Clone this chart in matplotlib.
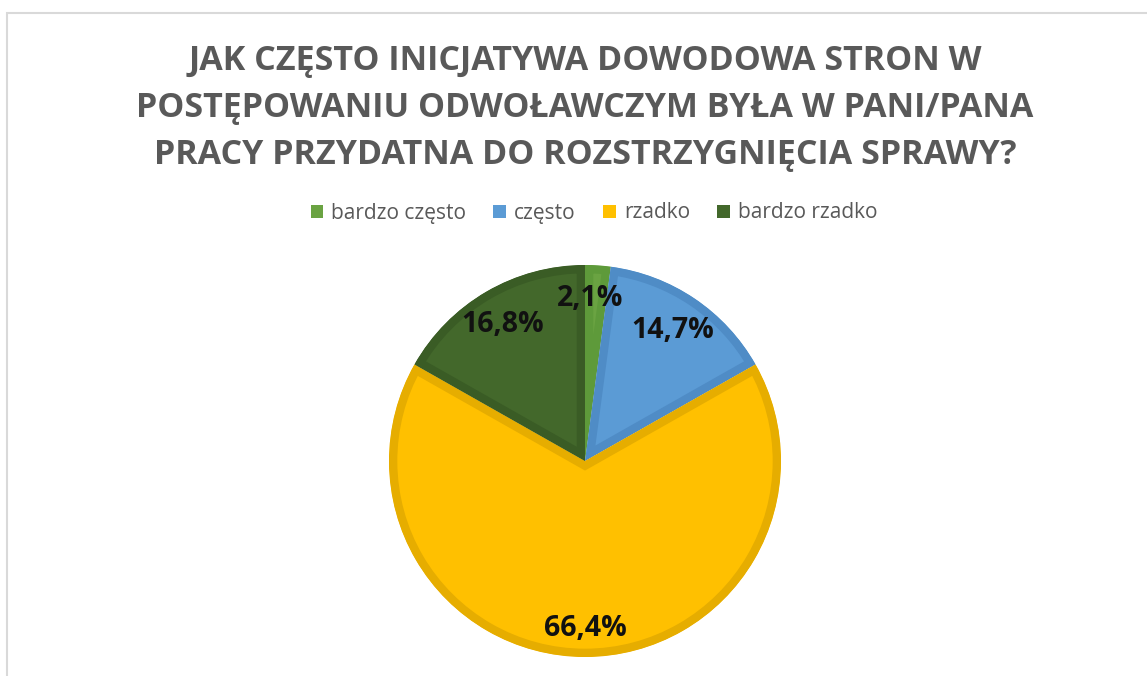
import matplotlib
matplotlib.use("Agg")
import matplotlib.pyplot as plt
from matplotlib.patches import Rectangle, Patch

# chart data
categories = ["bardzo często", "często", "rzadko", "bardzo rzadko"]
values = [2.1, 14.7, 66.4, 16.8]
labels = ["2,1%", "14,7%", "66,4%", "16,8%"]
fills = ["#6aa342", "#5b9bd5", "#ffc000", "#43682b"]
edges = ["#5e9a3a", "#4f8cc6", "#e6ad00", "#3a5c25"]

title = ("JAK CZĘSTO INICJATYWA DOWODOWA STRON W\n"
         "POSTĘPOWANIU ODWOŁAWCZYM BYŁA W PANI/PANA\n"
         "PRACY PRZYDATNA DO ROZSTRZYGNIĘCIA SPRAWY?")

W, H = 1147, 676
fig = plt.figure(figsize=(W / 100, H / 100), dpi=100)
ax = fig.add_axes([0, 0, 1, 1])

cx, cy, r = 585, H - 461, 196
wedges, _ = ax.pie(values, colors=fills, startangle=90, counterclock=False,
                   center=(cx, cy), radius=r)
for w, ec in zip(wedges, edges):
    # inner stroke: wide edge clipped to the wedge itself
    w.set_edgecolor(ec)
    w.set_linewidth(12)
    w.set_clip_on(True)
    w.set_clip_path(w)

ax.set_xlim(0, W)
ax.set_ylim(0, H)
ax.set_aspect("equal")
ax.axis("off")

# value labels
label_pos = [(590, 298), (673, 330), (585, 629), (503, 325)]
for lab, (x, y) in zip(labels, label_pos):
    ax.text(x, H - y, lab, ha="center", va="center", fontsize=20.5,
            fontweight="bold", color="#111111", family="Open Sans")

# title
ax.text(585, H - 108, title, ha="center", va="center", fontsize=24.5,
        fontweight="bold", color="#595959", family="Open Sans",
        linespacing=1.5)

# legend
handles = [Patch(facecolor=f, edgecolor="none") for f in fills]
fig.legend(handles, categories, loc="center", bbox_to_anchor=(594 / W, 1 - 213 / H),
           ncol=4, frameon=False, handlelength=0.6, handleheight=0.6,
           handletextpad=0.4, columnspacing=1.3,
           prop={"family": "Open Sans", "size": 15}, labelcolor="#595959")

# chart area border (cropped at right and bottom)
fig.patches.append(Rectangle((7.5 / W, -0.1), 1.2, 1 - 13.5 / H + 0.1,
                             transform=fig.transFigure, fill=False,
                             edgecolor="#d9d9d9", linewidth=1.5))

fig.savefig("out.png", dpi=100)
